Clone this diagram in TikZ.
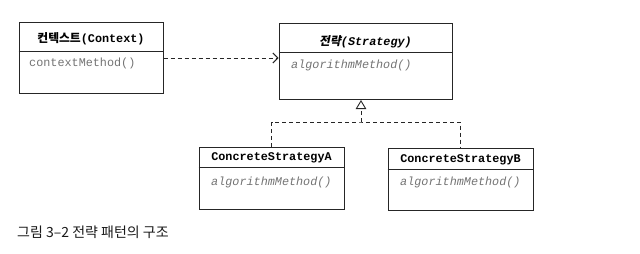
\documentclass[tikz,border=0pt]{standalone}
\usepackage{fontspec}
\setmonofont{Liberation Mono}
\newfontfamily\krfont{Noto Sans CJK KR}
\newfontfamily\krbold{Noto Sans CJK KR Bold}
\newfontfamily\krboldsl{Noto Sans CJK KR Bold}[FakeSlant=0.2]
\usetikzlibrary{arrows.meta,calc}

\tikzset{
  classbox/.style={draw=black!85, line width=1pt, rectangle, inner sep=0pt},
  divider/.style={draw=black!85, line width=0.9pt},
  classtitle/.style={inner sep=0pt, text=black,
    font=\ttfamily\bfseries\fontsize{11.8}{14}\selectfont},
  method/.style={anchor=west, inner sep=0pt, text=black!55,
    font=\ttfamily\itshape\fontsize{11.8}{14}\selectfont},
  dependency/.style={draw=black!85, line width=0.9pt, dash pattern=on 4pt off 3pt,
    -{Straight Barb[length=5pt,width=10pt,line width=1pt]}},
  realize/.style={draw=black!85, line width=0.9pt, dash pattern=on 4pt off 3pt},
  caption/.style={anchor=west, inner sep=0pt, text=black!90,
    font=\krfont\fontsize{14}{16}\selectfont},
}

\begin{document}
\begin{tikzpicture}[x=1pt,y=-1pt]
  \useasboundingbox (0,0) rectangle (640,254);

  % class boxes
  \node[classbox, minimum width=144pt, minimum height=70pt] (ctx)   at (91,58) {};
  \node[classbox, minimum width=173pt, minimum height=75pt] (strat) at (365.5,61.5) {};
  \node[classbox, minimum width=145pt, minimum height=62pt] (csa)   at (271.5,178) {};
  \node[classbox, minimum width=145pt, minimum height=62pt] (csb)   at (460.5,179) {};

  % compartments
  \draw[divider] ($(ctx.north west)+(0,29)$) -- ($(ctx.north east)+(0,29)$);
  \draw[divider] ($(strat.north west)+(0,29)$) -- ($(strat.north east)+(0,29)$);
  \draw[divider] ($(csa.north west)+(0,21)$) -- ($(csa.north east)+(0,21)$);
  \draw[divider] ($(csb.north west)+(0,22)$) -- ($(csb.north east)+(0,22)$);

  % class names
  \node[classtitle] (ctxname)   at (91,39)  {{\krbold 컨텍스트}(Context)};
  \node[classtitle, font=\ttfamily\bfseries\itshape\fontsize{11.8}{14}\selectfont]
        (stratname) at (365.5,42) {{\krboldsl 전략}(Strategy)};
  \node[classtitle] (csaname)   at (271.5,158) {ConcreteStrategyA};
  \node[classtitle] (csbname)   at (460.5,160) {ConcreteStrategyB};

  % operations
  \node[method, font=\ttfamily\fontsize{11.8}{14}\selectfont] (ctxop) at (29,63) {contextMethod()};
  \node[method] (stratop) at (291,65)  {algorithmMethod()};
  \node[method] (csaop)   at (211,182) {algorithmMethod()};
  \node[method] (csbop)   at (400,182) {algorithmMethod()};

  % context uses strategy
  \draw[dependency] (ctx.east) -- (ctx.east -| strat.west);

  % concrete strategies realize the strategy
  \coordinate (join) at (361,122);
  \coordinate (tip)  at (361,100);
  \draw[realize] (csa.north) |- (join) -| (csb.north);
  \draw[realize, -{Triangle[open,length=9pt,width=10.5pt,line width=0.9pt]}] (join) -- (tip);

  % caption
  \node[caption] (cap) at (17,232) {그림 3–2 전략 패턴의 구조};
\end{tikzpicture}
\end{document}
